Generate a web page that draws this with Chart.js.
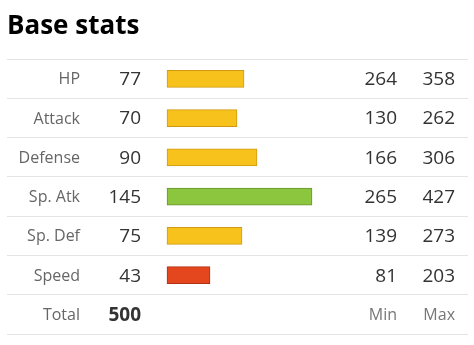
<!DOCTYPE html>
<html>
<head>
<meta charset="utf-8">
<style>
  html, body { margin: 0; padding: 0; background: #fff; }
  #chart { display: block; }
</style>
<script src="https://cdn.jsdelivr.net/npm/chart.js@4.4.1/dist/chart.umd.min.js"></script>
</head>
<body>
<canvas id="chart" width="474" height="345"></canvas>
<script>
// stat rows, top to bottom
var statNames = ["HP", "Attack", "Defense", "Sp. Atk", "Sp. Def", "Speed", "Total"];
var baseStats = [77, 70, 90, 145, 75, 43];
var totalStat = 500;
var minStats = [264, 130, 166, 265, 139, 81];
var maxStats = [358, 262, 306, 427, 273, 203];
var barColors = ["#f8c21c", "#f8c21c", "#f8c21c", "#8cc63f", "#f8c21c", "#e4461e"];
var barBorders = ["#cf9a12", "#cf9a12", "#cf9a12", "#68952c", "#b23218"];
barBorders.splice(4, 0, "#cf9a12");

// Total row has no bar
var barData = baseStats.concat([null]);

/**
 * Writes the text columns (name, base value, min, max) for every row,
 * using the category scale to place each row.
 */
var statColumns = {
    id: "statColumns",
    afterDatasetsDraw: function (chart) {
        var ctx = chart.ctx;
        var y = chart.scales.y;
        var font = "'Open Sans', 'Noto Sans', sans-serif";
        ctx.save();
        ctx.textAlign = "right";
        ctx.textBaseline = "middle";
        statNames.forEach(function (name, i) {
            var py = y.getPixelForValue(i) + 1;
            var isTotal = i === statNames.length - 1;
            ctx.font = "16px " + font;
            ctx.fillStyle = "#666";
            ctx.fillText(name, 80, py);
            ctx.font = (isTotal ? "bold " : "") + "19px " + font;
            ctx.fillStyle = "#333";
            ctx.fillText(String(isTotal ? totalStat : baseStats[i]), 141, py);
            if (isTotal) {
                ctx.font = "16px " + font;
                ctx.fillStyle = "#777";
                ctx.fillText("Min", 397, py);
                ctx.fillText("Max", 455, py);
            } else {
                ctx.fillText(String(minStats[i]), 397, py);
                ctx.fillText(String(maxStats[i]), 455, py);
            }
        });
        ctx.restore();
    }
};

new Chart(document.getElementById("chart"), {
    type: "bar",
    data: {
        labels: statNames,
        datasets: [
            {
                data: barData,
                backgroundColor: barColors,
                borderColor: barBorders,
                borderWidth: 1,
                borderSkipped: false,
                barThickness: 17
            }
        ]
    },
    options: {
        indexAxis: "y",
        responsive: false,
        animation: false,
        devicePixelRatio: 1,
        layout: { padding: { left: 7, right: 6, top: 0, bottom: 11 } },
        scales: {
            // bars start 160px into the row, one pixel per stat point
            x: { display: false, min: -160, max: 301 },
            y: {
                grid: { offset: true, color: "#e4e4e4", lineWidth: 1, drawTicks: false },
                border: { display: false },
                ticks: { display: false }
            }
        },
        plugins: {
            legend: { display: false },
            tooltip: { enabled: false },
            title: {
                display: true,
                text: "Base stats",
                align: "start",
                color: "#000",
                font: { family: "'Open Sans', 'Noto Sans', sans-serif", size: 26, weight: "bold", lineHeight: 1.2 },
                padding: { top: 11, bottom: 17 }
            }
        }
    },
    plugins: [statColumns]
});
</script>
</body>
</html>
